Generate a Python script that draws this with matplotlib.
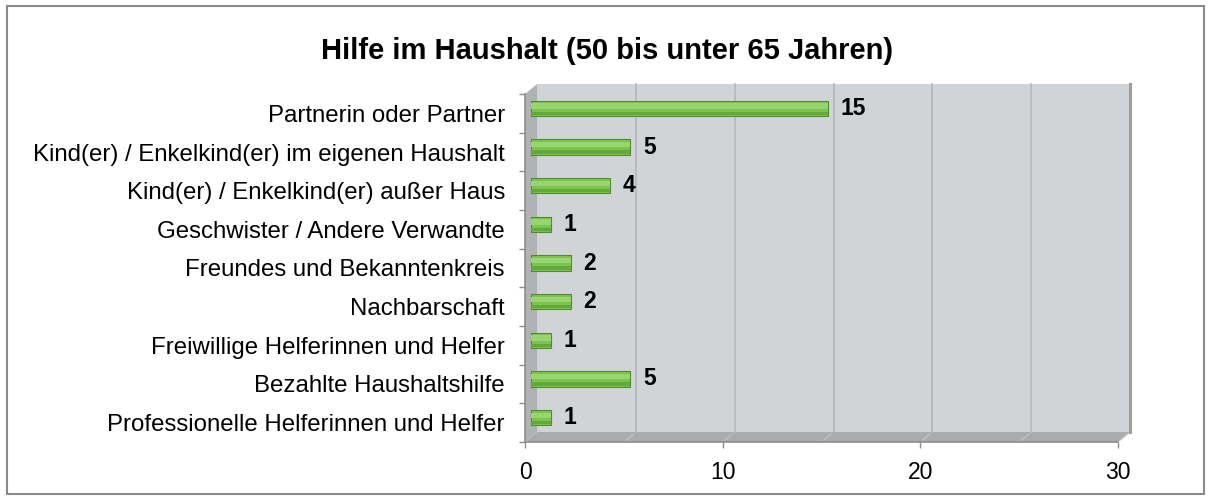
import matplotlib
matplotlib.use("Agg")
import matplotlib.pyplot as plt
import matplotlib.transforms as mtransforms
from matplotlib.patches import Rectangle, Polygon

plt.rcParams['font.family'] = ['Liberation Sans', 'DejaVu Sans']

# ---------------- Daten ----------------
titel = "Hilfe im Haushalt (50 bis unter 65 Jahren)"
kategorien = [
    "Partnerin oder Partner",
    "Kind(er) / Enkelkind(er) im eigenen Haushalt",
    "Kind(er) / Enkelkind(er) außer Haus",
    "Geschwister / Andere Verwandte",
    "Freundes und Bekanntenkreis",
    "Nachbarschaft",
    "Freiwillige Helferinnen und Helfer",
    "Bezahlte Haushaltshilfe",
    "Professionelle Helferinnen und Helfer",
]
werte = [15, 5, 4, 1, 2, 2, 1, 5, 1]
x_ticks = [0, 10, 20, 30]
gitter = [5, 10, 15, 20, 25, 30]

# ---------------- Figur ----------------
fig = plt.figure(figsize=(12.12, 5), dpi=100)
ax = fig.add_axes([0.4332, 0.116, 0.4893, 0.696])

# 3D-Tiefe in Pixeln
DX, DY = 12, 10
dx_ax = DX / (0.4893 * 1212)
dy_ax = DY / (0.696 * 500)

# Rückwand, Boden, linke Wand
ax.add_patch(Rectangle((dx_ax, dy_ax), 1, 1, transform=ax.transAxes,
                       facecolor='#d1d4d7', edgecolor='none', zorder=0, clip_on=False))
ax.add_patch(Polygon([(0, 0), (1, 0), (1 + dx_ax, dy_ax), (dx_ax, dy_ax)],
                     closed=True, transform=ax.transAxes, facecolor='#a9abae',
                     edgecolor='none', zorder=1, clip_on=False))
ax.add_patch(Polygon([(0, 0), (dx_ax, dy_ax), (dx_ax, 1 + dy_ax), (0, 1)],
                     closed=True, transform=ax.transAxes, facecolor='#b0b2b4',
                     edgecolor='none', zorder=1, clip_on=False))

# Gitterlinien auf der Rückwand (verschoben)
off_back = mtransforms.ScaledTranslation(DX / 100, DY / 100, fig.dpi_scale_trans)
blend = mtransforms.blended_transform_factory(ax.transData, ax.transAxes)
for g in gitter:
    farbe = '#9c9c9c' if g == 30 else '#b8bbbe'
    lw = 2.2 if g == 30 else 1.3
    ax.plot([g, g], [0, 1], transform=blend + off_back, color=farbe, lw=lw,
            zorder=1.5, clip_on=False)
    # diagonale Linien auf dem Boden
    ax.annotate('', xy=(g, 0), xycoords=blend,
                xytext=(g, 0), textcoords=blend + off_back,
                arrowprops=dict(arrowstyle='-', color='#c4c6c8', lw=0.8))

# Balken
off_bar = mtransforms.ScaledTranslation(6 / 100, 5 / 100, fig.dpi_scale_trans)
y = list(range(len(kategorien)))
ax.barh(y, werte, height=0.4, color='#7cc34f', edgecolor='#4f8d2e', lw=0.8,
        transform=ax.transData + off_bar, zorder=3)
ax.barh([i - 0.06 for i in y], werte, height=0.14, color='#98d56e', lw=0,
        transform=ax.transData + off_bar, zorder=4)
ax.barh([i + 0.13 for i in y], werte, height=0.08, color='#62a83a', lw=0,
        transform=ax.transData + off_bar, zorder=4)

# Werte-Beschriftung
off_txt = mtransforms.ScaledTranslation(19 / 100, 5 / 100, fig.dpi_scale_trans)
for i, v in enumerate(werte):
    ax.text(v, i, str(v), transform=ax.transData + off_txt, ha='left',
            va='center', fontsize=16.5, fontweight='bold', color='black', zorder=5)

# Achsen
ax.set_xlim(0, 30)
ax.set_ylim(len(kategorien) - 0.5, -0.5)
ax.set_facecolor('none')
ax.set_xticks(x_ticks)
ax.set_xticklabels([str(t) for t in x_ticks], fontsize=16.5)
ax.set_yticks(y)
ax.set_yticklabels(kategorien, fontsize=17.3)
ax.set_yticks([i - 0.5 for i in range(len(kategorien) + 1)], minor=True)
ax.tick_params(axis='y', which='major', length=0, pad=14.5)
ax.tick_params(axis='y', which='minor', length=4, color='#8c8c8c', width=1)
ax.tick_params(axis='x', which='major', length=4.5, color='#8c8c8c', width=1, pad=9)
for s in ['top', 'right']:
    ax.spines[s].set_visible(False)
for s in ['left', 'bottom']:
    ax.spines[s].set_color('#8c8c8c')
    ax.spines[s].set_linewidth(1.2)

# Titel
fig.text(0.5008, 0.8814, titel, ha='center', va='baseline', fontsize=21,
         fontweight='bold')

# Rahmen
fig.add_artist(Rectangle((7 / 1212, 6 / 500), 1197 / 1212, 488 / 500,
                         transform=fig.transFigure, fill=False,
                         edgecolor='#8a8a8a', lw=1.5))

fig.savefig("out.png", dpi=100)
